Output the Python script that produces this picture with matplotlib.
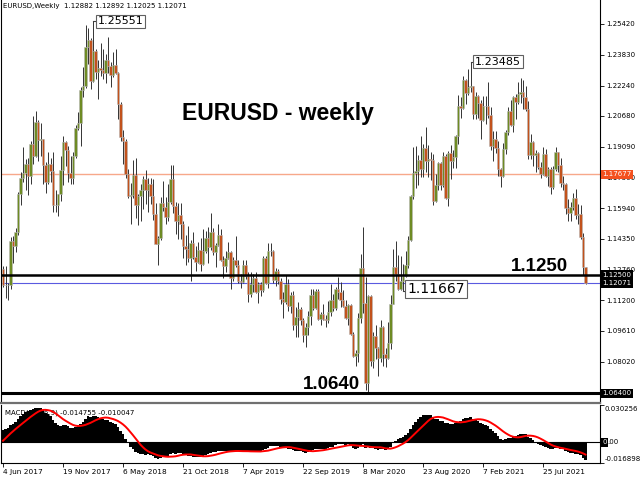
import numpy as np
import pandas as pd
import matplotlib
matplotlib.use("Agg")
import matplotlib.pyplot as plt

# weekly closes before the visible window (only used to warm up the MACD)
pre_close = [1.1390, 1.1395, 1.1285, 1.1225, 1.1455, 1.1405, 1.1310, 1.1220, 1.1115, 1.1365,
             1.1250, 1.1275, 1.1115, 1.1105, 1.1050, 1.1040, 1.0975, 1.1175, 1.1085, 1.1160,
             1.1325, 1.1195, 1.1155, 1.1235, 1.1155, 1.1225, 1.1240, 1.1200, 1.0970, 1.0880,
             1.0985, 1.1140, 1.0850, 1.0585, 1.0590, 1.0665, 1.0560, 1.0450, 1.0455, 1.0520,
             1.0530, 1.0645, 1.0705, 1.0695, 1.0785, 1.0640, 1.0615, 1.0560, 1.0620, 1.0670,
             1.0735, 1.0800, 1.0650, 1.0590, 1.0615, 1.0725, 1.0895, 1.0995, 1.0930, 1.1205,
             1.1180, 1.1280]

# visible weekly bars, 4 Jun 2017 .. 21 Nov 2021
close_2017 = [1.1195, 1.1197, 1.1195, 1.1425, 1.1400, 1.1470, 1.1665, 1.1750, 1.1773, 1.1822,
              1.1760, 1.1923, 1.1860, 1.2035, 1.1942, 1.1950, 1.1815, 1.1730, 1.1822, 1.1785,
              1.1610, 1.1610, 1.1665, 1.1790, 1.1935, 1.1895, 1.1775, 1.1750, 1.1860, 1.2005]
high_2017 = [1.1296, 1.1296, 1.1209, 1.1446, 1.1448, 1.1490, 1.1679, 1.1777, 1.1910, 1.1846,
             1.1850, 1.1941, 1.2070, 1.2092, 1.2045, 1.2034, 1.1951, 1.1830, 1.1880, 1.1850,
             1.1880, 1.1688, 1.1668, 1.1862, 1.1964, 1.1940, 1.1915, 1.1863, 1.1880, 1.2023]
low_2017 = [1.1187, 1.1132, 1.1119, 1.1176, 1.1313, 1.1369, 1.1456, 1.1612, 1.1730, 1.1688,
            1.1662, 1.1718, 1.1823, 1.1855, 1.1838, 1.1861, 1.1717, 1.1669, 1.1720, 1.1730,
            1.1574, 1.1574, 1.1553, 1.1630, 1.1715, 1.1810, 1.1730, 1.1716, 1.1720, 1.1851]

close_2018 = [1.2030, 1.2200, 1.2220, 1.2425, 1.2460, 1.2250, 1.2405, 1.2295, 1.2315, 1.2305,
              1.2290, 1.2355, 1.2325, 1.2280, 1.2330, 1.2290, 1.2130, 1.1960, 1.1940, 1.1770,
              1.1655, 1.1660, 1.1765, 1.1610, 1.1655, 1.1685, 1.1745, 1.1685, 1.1720, 1.1655,
              1.1565, 1.1410, 1.1440, 1.1620, 1.1600, 1.1550, 1.1625, 1.1745, 1.1605, 1.1525,
              1.1560, 1.1510, 1.1400, 1.1385, 1.1335, 1.1415, 1.1340, 1.1315, 1.1380, 1.1305,
              1.1370, 1.1440]
high_2018 = [1.2088, 1.2219, 1.2323, 1.2537, 1.2520, 1.2470, 1.2555, 1.2412, 1.2355, 1.2446,
             1.2413, 1.2388, 1.2476, 1.2344, 1.2396, 1.2414, 1.2297, 1.2139, 1.1997, 1.1950,
             1.1797, 1.1721, 1.1840, 1.1852, 1.1665, 1.1720, 1.1760, 1.1791, 1.1750, 1.1750,
             1.1745, 1.1622, 1.1448, 1.1650, 1.1734, 1.1650, 1.1720, 1.1815, 1.1815, 1.1625,
             1.1620, 1.1620, 1.1525, 1.1455, 1.1500, 1.1430, 1.1472, 1.1400, 1.1420, 1.1440,
             1.1486, 1.1476]
low_2018 = [1.1995, 1.1916, 1.2165, 1.2210, 1.2335, 1.2206, 1.2245, 1.2260, 1.2154, 1.2273,
            1.2258, 1.2240, 1.2289, 1.2215, 1.2268, 1.2285, 1.2055, 1.1938, 1.1823, 1.1750,
            1.1644, 1.1510, 1.1645, 1.1540, 1.1508, 1.1527, 1.1590, 1.1613, 1.1575, 1.1615,
            1.1530, 1.1406, 1.1301, 1.1430, 1.1580, 1.1510, 1.1526, 1.1615, 1.1570, 1.1462,
            1.1432, 1.1432, 1.1336, 1.1301, 1.1315, 1.1216, 1.1330, 1.1267, 1.1310, 1.1270,
            1.1300, 1.1360]

close_2019 = [1.1395, 1.1470, 1.1365, 1.1405, 1.1455, 1.1325, 1.1295, 1.1335, 1.1365, 1.1235,
              1.1325, 1.1300, 1.1220, 1.1215, 1.1300, 1.1245, 1.1150, 1.1200, 1.1235, 1.1160,
              1.1205, 1.1170, 1.1335, 1.1210, 1.1370, 1.1370, 1.1225, 1.1270, 1.1220, 1.1125,
              1.1110, 1.1200, 1.1090, 1.1145, 1.0990, 1.1030, 1.1075, 1.1015, 1.0940, 1.0980,
              1.1040, 1.1145, 1.1080, 1.1165, 1.1020, 1.1050, 1.1020, 1.1015, 1.1060, 1.1120,
              1.1080, 1.1175]
high_2019 = [1.1497, 1.1570, 1.1490, 1.1415, 1.1514, 1.1488, 1.1345, 1.1372, 1.1420, 1.1370,
             1.1339, 1.1448, 1.1325, 1.1255, 1.1324, 1.1324, 1.1265, 1.1265, 1.1255, 1.1265,
             1.1215, 1.1215, 1.1348, 1.1348, 1.1412, 1.1412, 1.1380, 1.1286, 1.1282, 1.1232,
             1.1160, 1.1250, 1.1230, 1.1160, 1.1164, 1.1085, 1.1109, 1.1085, 1.1025, 1.1000,
             1.1063, 1.1179, 1.1179, 1.1175, 1.1175, 1.1060, 1.1097, 1.1045, 1.1115, 1.1200,
             1.1150, 1.1188]
low_2019 = [1.1309, 1.1380, 1.1352, 1.1290, 1.1398, 1.1322, 1.1234, 1.1265, 1.1330, 1.1176,
            1.1220, 1.1290, 1.1210, 1.1183, 1.1210, 1.1226, 1.1112, 1.1135, 1.1160, 1.1155,
            1.1106, 1.1140, 1.1160, 1.1200, 1.1180, 1.1345, 1.1207, 1.1193, 1.1200, 1.1101,
            1.1027, 1.1100, 1.1065, 1.1052, 1.0965, 1.0927, 1.0927, 1.0990, 1.0905, 1.0879,
            1.0940, 1.0990, 1.1070, 1.1073, 1.1015, 1.0990, 1.1015, 1.0980, 1.1000, 1.1040,
            1.1065, 1.1070]

close_2020 = [1.1160, 1.1120, 1.1090, 1.1025, 1.1095, 1.0945, 1.0830, 1.0845, 1.1025, 1.1285,
              1.1105, 1.0690, 1.1140, 1.0805, 1.0935, 1.0875, 1.0820, 1.0980, 1.0840, 1.0820,
              1.0900, 1.1100, 1.1290, 1.1255, 1.1175, 1.1220, 1.1245, 1.1300, 1.1430, 1.1655,
              1.1775, 1.1785, 1.1840, 1.1795, 1.1905, 1.1835, 1.1845, 1.1840, 1.1630, 1.1715,
              1.1825, 1.1715, 1.1860, 1.1645, 1.1875, 1.1835, 1.1855, 1.1965, 1.2120, 1.2110,
              1.2255, 1.2185]
high_2020 = [1.1240, 1.1215, 1.1173, 1.1120, 1.1100, 1.1100, 1.0955, 1.0863, 1.1053, 1.1355,
             1.1495, 1.1236, 1.1147, 1.1148, 1.0953, 1.0990, 1.0880, 1.1019, 1.0985, 1.0875,
             1.1008, 1.1147, 1.1384, 1.1422, 1.1350, 1.1349, 1.1303, 1.1371, 1.1452, 1.1660,
             1.1909, 1.1916, 1.1865, 1.1966, 1.1925, 1.2011, 1.1917, 1.1882, 1.1870, 1.1771,
             1.1830, 1.1830, 1.1880, 1.1870, 1.1890, 1.1920, 1.1893, 1.1970, 1.2177, 1.2166,
             1.2273, 1.2260]
low_2020 = [1.1125, 1.1085, 1.1085, 1.1020, 1.0990, 1.0940, 1.0827, 1.0778, 1.0800, 1.1000,
            1.1055, 1.0654, 1.0636, 1.0780, 1.0770, 1.0815, 1.0727, 1.0800, 1.0782, 1.0775,
            1.0818, 1.0870, 1.1098, 1.1220, 1.1169, 1.1170, 1.11667, 1.1240, 1.1285, 1.1425,
            1.1640, 1.1695, 1.1710, 1.1753, 1.1753, 1.1780, 1.1752, 1.1737, 1.1612, 1.1625,
            1.1685, 1.1688, 1.1700, 1.1640, 1.1603, 1.1745, 1.1800, 1.1800, 1.1925, 1.2060,
            1.2105, 1.2130]

close_2021 = [1.2215, 1.2220, 1.2080, 1.2170, 1.2135, 1.2045, 1.2120, 1.2120, 1.2075, 1.1915,
              1.1950, 1.1905, 1.1795, 1.1760, 1.1900, 1.1985, 1.2095, 1.2020, 1.2165, 1.2140,
              1.2180, 1.2190, 1.2165, 1.2105, 1.1865, 1.1935, 1.1865, 1.1875, 1.1805, 1.1770,
              1.1870, 1.1760, 1.1795, 1.1700, 1.1795, 1.1880, 1.1815, 1.1725, 1.1720, 1.1595,
              1.1570, 1.1600, 1.1645, 1.1560, 1.1565, 1.1445, 1.12882, 1.12071]
high_2021 = [1.2310, 1.23485, 1.2225, 1.2190, 1.2178, 1.2150, 1.2170, 1.2170, 1.2243, 1.2113,
             1.1990, 1.1990, 1.1940, 1.1800, 1.1930, 1.1995, 1.2115, 1.2150, 1.2170, 1.2180,
             1.2245, 1.2265, 1.2255, 1.2220, 1.2145, 1.1975, 1.1940, 1.1895, 1.1880, 1.1830,
             1.1909, 1.1900, 1.1805, 1.1805, 1.1810, 1.1910, 1.1885, 1.1850, 1.1760, 1.1725,
             1.1640, 1.1625, 1.1670, 1.1692, 1.1616, 1.1610, 1.1464, 1.12892]
low_2021 = [1.2175, 1.2190, 1.2055, 1.2055, 1.2060, 1.1952, 1.2040, 1.2025, 1.2060, 1.1893,
            1.1835, 1.1875, 1.1760, 1.1704, 1.1755, 1.1870, 1.1970, 1.2015, 1.1985, 1.2050,
            1.2130, 1.2135, 1.2105, 1.2095, 1.1845, 1.1847, 1.1808, 1.1780, 1.1795, 1.1750,
            1.1765, 1.1755, 1.1705, 1.1665, 1.1690, 1.1785, 1.1780, 1.1700, 1.1685, 1.1563,
            1.1529, 1.1525, 1.1585, 1.1535, 1.1513, 1.1433, 1.1250, 1.12025]

tick_pos = [0, 24, 48, 72, 96, 120, 144, 168, 192, 216]
tick_labels = ["4 Jun 2017", "19 Nov 2017", "6 May 2018", "21 Oct 2018", "7 Apr 2019",
               "22 Sep 2019", "8 Mar 2020", "23 Aug 2020", "7 Feb 2021", "25 Jul 2021"]
price_ticks = [1.25420, 1.23830, 1.22240, 1.20680, 1.19090, 1.17500, 1.15940, 1.14350,
               1.12760, 1.11200, 1.09610, 1.08020]
macd_max = 0.030256
macd_min = -0.016898
# (bar index, price, font size, box centre price)
callouts = [(36, 1.25551, 8, 1.25551), (187, 1.23485, 8, 1.23485), (160, 1.11667, 10, 1.1177)]

c = np.array(close_2017 + close_2018 + close_2019 + close_2020 + close_2021)
h = np.array(high_2017 + high_2018 + high_2019 + high_2020 + high_2021)
l = np.array(low_2017 + low_2018 + low_2019 + low_2020 + low_2021)
o = np.concatenate([[pre_close[-1]], c[:-1]])  # weekly open = previous close
n = len(c)
x = np.arange(n)

# MACD(12,26,9) like MT4: EMA difference, SMA signal
s = pd.Series(pre_close + list(c))
macd = s.ewm(span=12, adjust=False).mean() - s.ewm(span=26, adjust=False).mean()
signal = macd.rolling(9).mean()
macd_vis = macd.values[len(pre_close):]
sig_vis = signal.values[len(pre_close):]

fig = plt.figure(figsize=(6.4, 4.8), dpi=100)
ax = fig.add_axes([1 / 640, 77 / 480, 599 / 640, 403 / 480])
ax2 = fig.add_axes([1 / 640, 17 / 480, 599 / 640, 58 / 480])

# candles
up = c >= o
ax.vlines(x, l, h, color='#333333', lw=0.7, zorder=2)
ax.bar(x[up], (c - o)[up], bottom=o[up], width=0.85, color='#6e8b24',
       edgecolor='#b8b8b8', lw=0.4, zorder=3)
ax.bar(x[~up], (o - c)[~up], bottom=c[~up], width=0.85, color='#c2521c',
       edgecolor='#b8b8b8', lw=0.4, zorder=3)

# levels
ax.axhline(1.17677, color='#f7a88a', lw=1.0, zorder=1)
ax.axhline(1.12500, color='black', lw=1.8, zorder=4)
ax.axhline(1.12071, color='#5a5ae0', lw=0.8, zorder=1)
ax.axhline(1.06400, color='black', lw=2.2, zorder=4)

ax.set_xlim(-0.8, 238.8)
ax.set_ylim(1.05894, 1.26656)
ax.set_xticks([])
ax.yaxis.tick_right()
ax.set_yticks(price_ticks)
ax.set_yticklabels(["%.5f" % v for v in price_ticks])
ax.tick_params(axis='y', labelsize=5.0, length=3, width=0.6, pad=1.5, direction='out')

for val, fc in [(1.17677, '#f4511e'), (1.12500, 'black'), (1.12071, 'black'), (1.06400, 'black')]:
    ax.text(1.004, val, "%.5f" % val, transform=ax.get_yaxis_transform(), ha='left',
            va='center', fontsize=5.0, color='white', clip_on=False, zorder=6,
            bbox=dict(boxstyle='square,pad=0.22', fc=fc, ec='none'))

# price callouts
for i, val, fs, yc in callouts:
    ax.plot([i, i + 1.8], [val, val], color='#404040', lw=0.8, zorder=5)
    ax.text(i + 1.8, yc, "%.5f" % val, ha='left', va='center', fontsize=fs, zorder=6,
            bbox=dict(boxstyle='square,pad=0.15', fc='white', ec='#606060', lw=0.8))

ax.text(110, 1.2047, "EURUSD - weekly", ha='center', va='baseline', fontsize=16.5,
        fontweight='bold', family='Liberation Sans')
ax.text(226, 1.1272, "1.1250", ha='right', va='baseline', fontsize=13.5,
        fontweight='bold', family='Liberation Sans', zorder=6)
ax.text(142.8, 1.0662, "1.0640", ha='right', va='baseline', fontsize=13.5,
        fontweight='bold', family='Liberation Sans', zorder=6)
ax.text(0.004, 0.993, "EURUSD,Weekly  1.12882 1.12892 1.12025 1.12071", transform=ax.transAxes,
        ha='left', va='top', fontsize=5)

ax.spines['top'].set_visible(False)
ax.spines['left'].set_color('black')
ax.spines['right'].set_color('black')
ax.spines['bottom'].set_color('#707070')
ax.spines['bottom'].set_linewidth(1.6)

# MACD panel, scaled between its max and min like MT4
ax2.bar(x, macd_vis, width=1.0, color='black', lw=0, zorder=2)
ax2.plot(x, sig_vis, color='red', lw=1.4, zorder=3)
ax2.axhline(0, color='black', lw=0.8, zorder=2)
ax2.text(0.006, 0.93, "MACD(12,26,9) -0.014755 -0.010047", transform=ax2.transAxes,
         ha='left', va='top', fontsize=5, zorder=1)
ax2.set_xlim(-0.8, 238.8)
ax2.set_ylim(macd_min, macd_max)
ax2.yaxis.tick_right()
ax2.set_yticks([macd_max, 0.0, macd_min])
ax2.set_yticklabels([])
ax2.tick_params(axis='y', length=3, width=0.6)
ax2.text(1.008, 0.99, "%.6f" % macd_max, transform=ax2.transAxes, ha='left', va='top',
         fontsize=5.0, clip_on=False)
ax2.text(1.008, 0.01, "%.6f" % macd_min, transform=ax2.transAxes, ha='left', va='bottom',
         fontsize=5.0, clip_on=False)
ax2.text(1.004, 0.0, "0", transform=ax2.get_yaxis_transform(), ha='left', va='center',
         fontsize=5.0, color='white', clip_on=False,
         bbox=dict(boxstyle='square,pad=0.2', fc='black', ec='none'))
ax2.annotate(".00", xy=(1.004, 0.0), xycoords=ax2.get_yaxis_transform(), xytext=(3.2, 0),
             textcoords='offset points', ha='left', va='center', fontsize=5.0,
             annotation_clip=False)
ax2.set_xticks(tick_pos)
ax2.set_xticklabels(tick_labels)
for lab in ax2.get_xticklabels():
    lab.set_ha('left')
ax2.tick_params(axis='x', labelsize=5.3, length=3, width=0.6, pad=1.5)
ax2.spines['top'].set_visible(False)

fig.savefig("out.png", dpi=100)
